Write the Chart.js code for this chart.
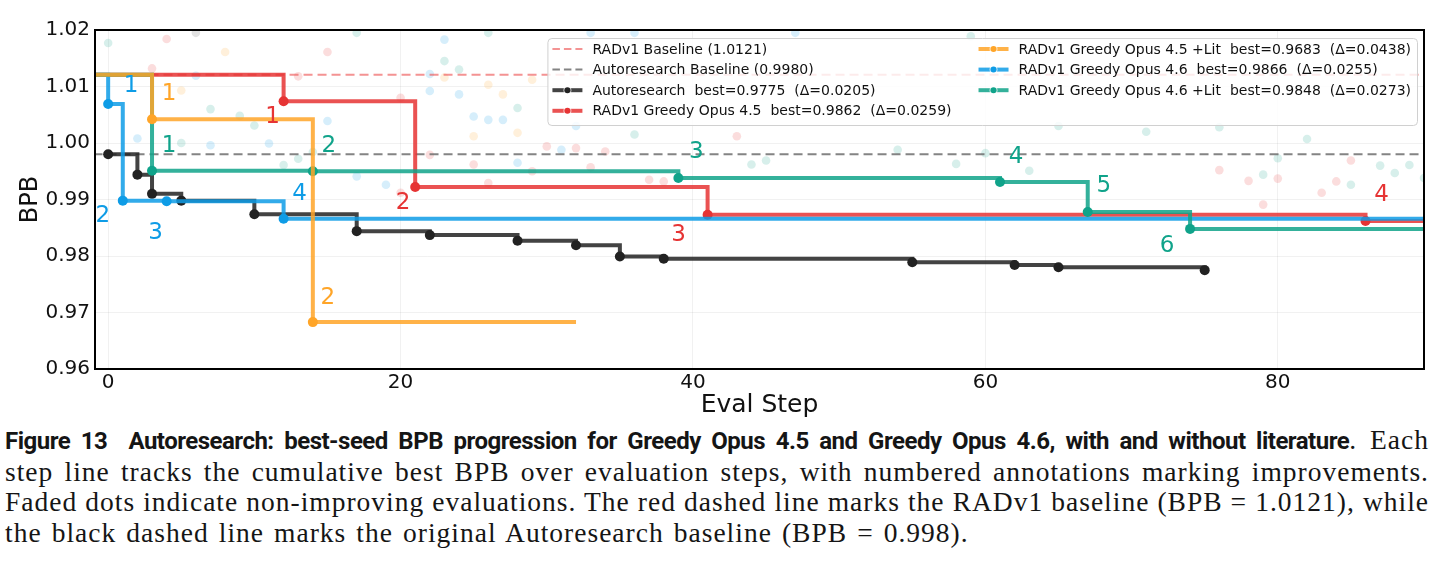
<!DOCTYPE html>
<html>
<head>
<meta charset="utf-8">
<script src="https://cdn.jsdelivr.net/npm/chart.js@4.4.1/dist/chart.umd.min.js"></script>
<style>
  html, body { margin: 0; padding: 0; background: #fff; }
  #wrap { position: relative; width: 1448px; height: 418px; }
  #caption { position: absolute; left: 5px; top: 425px; width: 1424px;
    font-family: 'Liberation Serif', 'DejaVu Serif', serif; font-size: 27.5px; letter-spacing: 1px;
    line-height: 30.7px; color: #151515; }
  #caption .ln { text-align: justify; text-align-last: justify; white-space: nowrap; }
  #caption .ln.last { text-align-last: left; word-spacing: 2.2px; }
  #caption b { font-family: Roboto, 'Noto Sans', sans-serif; font-weight: 700; font-size: 24px; letter-spacing: -0.5px; }
</style>
</head>
<body>
<div id="wrap"><canvas id="c"></canvas></div>
<div id="caption">
  <div class="ln"><b>Figure 13&nbsp; Autoresearch: best-seed BPB progression for Greedy Opus 4.5 and Greedy Opus 4.6, with and without literature</b>. Each</div>
  <div class="ln">step line tracks the cumulative best BPB over evaluation steps, with numbered annotations marking improvements.</div>
  <div class="ln">Faded dots indicate non-improving evaluations. The red dashed line marks the RADv1 baseline (BPB = 1.0121), while</div>
  <div class="ln last">the black dashed line marks the original Autoresearch baseline (BPB = 0.998).</div>
</div>
<script>
// ---------------- DATA ----------------
const xTicks = [0, 20, 40, 60, 80];
const yTicks = [0.96, 0.97, 0.98, 0.99, 1.00, 1.01, 1.02];

const RAD_BASELINE = 1.0121;
const AUTO_BASELINE = 0.9980;

// Autoresearch (cumulative best, improvement steps)
const autoSteps = [0, 2, 3, 5, 10, 17, 22, 28, 32, 35, 38, 55, 62, 65, 75];
const autoVals  = [0.9980, 0.9944, 0.9910, 0.9898, 0.9874, 0.9844, 0.9837, 0.9827, 0.9819, 0.9799, 0.9795, 0.9789, 0.9784, 0.9780, 0.9775];

// RADv1 Greedy Opus 4.5
const op45Steps = [12, 21, 41, 86];
const op45Vals  = [1.0074, 0.9922, 0.9873, 0.9862];
const op45LastStep = 90;

// RADv1 Greedy Opus 4.5 +Lit
const op45LitSteps = [3, 14];
const op45LitVals  = [1.0042, 0.9683];
const op45LitLastStep = 32;

// RADv1 Greedy Opus 4.6
const op46Steps = [0, 1, 4, 12];
const op46Vals  = [1.0069, 0.9898, 0.9897, 0.9866];
const op46LastStep = 90;

// RADv1 Greedy Opus 4.6 +Lit
const op46LitSteps = [3, 14, 39, 61, 67, 74];
const op46LitVals  = [0.9951, 0.9950, 0.9938, 0.9931, 0.9878, 0.9848];
const op46LitLastStep = 90;

// Faded (non-improving) evaluations
const fadeAutoX = [6];
const fadeAutoY = [1.0195];
const fadeOp45X = [4, 15, 3, 13, 20, 22, 20, 30, 32, 34, 25, 29, 26, 33, 37, 38, 43, 76, 78, 80, 83, 84, 85, 79];
const fadeOp45Y = [1.0184, 1.0161, 1.0132, 1.0118, 1.0080, 0.9979, 0.9912, 0.9994, 0.9991, 0.9985, 0.9962, 0.9950, 0.9929, 0.9957, 0.9935, 0.9932, 1.0012, 0.9952, 0.9933, 0.9937, 0.9912, 0.9932, 0.9969, 0.9891];
const fadeOp45LitX = [8, 5, 23, 26, 27, 29, 25, 28];
const fadeOp45LitY = [1.0161, 1.0093, 1.0116, 1.0103, 1.0086, 1.0112, 1.0012, 1.0018];
const fadeOp46X = [6, 22, 15, 2, 7, 11, 17, 19, 23, 22, 24, 25, 26, 27, 32, 33, 36, 31, 28, 47];
const fadeOp46Y = [1.0119, 1.0122, 1.0039, 1.0008, 0.9996, 0.9999, 0.9941, 0.9926, 1.0183, 1.0092, 1.0086, 1.0047, 1.0041, 1.0041, 1.0030, 1.0195, 1.0195, 0.9988, 0.9965, 1.0195];
const fadeOp46LitX = [0, 17, 7, 9, 10, 5, 12, 13, 14, 26, 23, 24, 28, 36, 44, 45, 54, 58, 60, 63, 65, 59, 71, 76, 82, 80, 87, 89, 88, 79, 85, 90];
const fadeOp46LitY = [1.0177, 1.0195, 1.0060, 1.0048, 1.0031, 1.0000, 0.9961, 0.9972, 0.9984, 1.0195, 1.0145, 1.0130, 1.0062, 1.0015, 0.9962, 0.9969, 0.9988, 0.9963, 0.9982, 0.9951, 1.0030, 1.0189, 1.0020, 1.0028, 1.0007, 0.9973, 0.9960, 0.9961, 0.9947, 0.9944, 0.9926, 0.9938];

// ---------------- STYLE ----------------
const X_MIN = -0.9, X_MAX = 90, SERIES_START = -1;
const COL = {
  auto:    [34, 34, 34],
  op45:    [230, 52, 52],
  op45Lit: [255, 165, 40],
  op46:    [14, 156, 230],
  op46Lit: [16, 163, 138]
};
const rgba = (c, a) => `rgba(${c[0]},${c[1]},${c[2]},${a})`;
// text offsets (px) of numbered annotations from their improvement dot
const labelOffsets = {
  op45:    [[-11, 16], [-12, 16], [-29, 20], [16, -26]],
  op45Lit: [[17, -25], [15, -24]],
  op46:    [[23, -18], [-20, 15], [-11, 32], [16, -25]],
  op46Lit: [[17, -25], [16, -25], [18, -26], [16, -25], [16, -26], [-23, 17]]
};

// ---------------- BUILD ----------------
function stepSeries(steps, vals, lastStep, startVal) {
  const pts = [];
  if (startVal !== undefined) pts.push({ x: SERIES_START, y: startVal, imp: false });
  steps.forEach((s, i) => pts.push({ x: s, y: vals[i], imp: true }));
  if (lastStep !== undefined && lastStep > steps[steps.length - 1])
    pts.push({ x: lastStep, y: vals[vals.length - 1], imp: false });
  return pts;
}
const zipPts = (xs, ys) => xs.map((x, i) => ({ x, y: ys[i] }));
const best = v => Math.min(...v);
const fmt = v => v.toFixed(4);

function stepDataset(key, label, pts, order) {
  return {
    key, label, data: pts, order, kind: 'step',
    stepped: 'before',
    borderColor: rgba(COL[key], 0.85),
    borderWidth: 4,
    pointRadius: c => (c.raw && c.raw.imp) ? 5 : 0,
    pointBackgroundColor: rgba(COL[key], 1),
    pointBorderWidth: 0,
    clip: 0,
    borderCapStyle: 'butt', borderJoinStyle: 'miter'
  };
}
function fadeDataset(key, xs, ys) {
  return {
    key: key + 'Fade', data: zipPts(xs, ys), order: 100, kind: 'fade',
    showLine: false, pointRadius: 4.3, pointBorderWidth: 0,
    pointBackgroundColor: rgba(COL[key], key === 'auto' ? 0.13 : 0.17), clip: 0
  };
}

const datasets = [
  fadeDataset('auto', fadeAutoX, fadeAutoY),
  fadeDataset('op45', fadeOp45X, fadeOp45Y),
  fadeDataset('op45Lit', fadeOp45LitX, fadeOp45LitY),
  fadeDataset('op46', fadeOp46X, fadeOp46Y),
  fadeDataset('op46Lit', fadeOp46LitX, fadeOp46LitY),
  { key: 'radBase', kind: 'base', label: `RADv1 Baseline (${fmt(RAD_BASELINE)})`,
    data: [{ x: SERIES_START, y: RAD_BASELINE }, { x: X_MAX + 1, y: RAD_BASELINE }],
    borderColor: 'rgba(238,80,80,0.62)', borderDash: [9, 5], borderWidth: 2, pointRadius: 0, order: 50, clip: 0 },
  { key: 'autoBase', kind: 'base', label: `Autoresearch Baseline (${fmt(AUTO_BASELINE)})`,
    data: [{ x: SERIES_START, y: AUTO_BASELINE }, { x: X_MAX + 1, y: AUTO_BASELINE }],
    borderColor: 'rgba(110,110,110,0.85)', borderDash: [9, 5], borderWidth: 2, pointRadius: 0, order: 50, clip: 0 },
  stepDataset('auto', `Autoresearch  best=${fmt(best(autoVals))}  (Δ=${fmt(AUTO_BASELINE - best(autoVals))})`,
    stepSeries(autoSteps, autoVals), 6),
  stepDataset('op45', `RADv1 Greedy Opus 4.5  best=${fmt(best(op45Vals))}  (Δ=${fmt(RAD_BASELINE - best(op45Vals))})`,
    stepSeries(op45Steps, op45Vals, op45LastStep, RAD_BASELINE), 5),
  stepDataset('op45Lit', `RADv1 Greedy Opus 4.5 +Lit  best=${fmt(best(op45LitVals))}  (Δ=${fmt(RAD_BASELINE - best(op45LitVals))})`,
    stepSeries(op45LitSteps, op45LitVals, op45LitLastStep, RAD_BASELINE), 2),
  stepDataset('op46', `RADv1 Greedy Opus 4.6  best=${fmt(best(op46Vals))}  (Δ=${fmt(RAD_BASELINE - best(op46Vals))})`,
    stepSeries(op46Steps, op46Vals, op46LastStep, RAD_BASELINE), 4),
  stepDataset('op46Lit', `RADv1 Greedy Opus 4.6 +Lit  best=${fmt(best(op46LitVals))}  (Δ=${fmt(RAD_BASELINE - best(op46LitVals))})`,
    stepSeries(op46LitSteps, op46LitVals, op46LitLastStep, RAD_BASELINE), 3)
];
const legendKeys = ['radBase', 'autoBase', 'auto', 'op45', 'op45Lit', 'op46', 'op46Lit'];
const annotKeys = ['op45', 'op45Lit', 'op46', 'op46Lit'];

// ---------------- PLUGINS ----------------
const overlayPlugin = {
  id: 'overlay',
  afterDatasetsDraw(chart) {
    const { ctx, chartArea: ca, scales } = chart;
    ctx.save();
    // frame (spines)
    ctx.strokeStyle = '#000';
    ctx.lineWidth = 2;
    ctx.strokeRect(ca.left, ca.top, ca.right - ca.left, ca.bottom - ca.top);
    // numbered annotations
    ctx.font = '23px "DejaVu Sans"';
    ctx.textAlign = 'center';
    ctx.textBaseline = 'middle';
    annotKeys.forEach(k => {
      const ds = chart.data.datasets.find(d => d.key === k);
      const imps = ds.data.filter(p => p.imp);
      imps.forEach((p, i) => {
        const off = labelOffsets[k][i] || [16, -25];
        const px = scales.x.getPixelForValue(p.x) + off[0];
        const py = scales.y.getPixelForValue(p.y) + off[1];
        ctx.fillStyle = rgba(COL[k], 1);
        ctx.fillText(String(i + 1), px, py);
      });
    });
    ctx.restore();
  },
  afterDraw(chart) {
    const { ctx, chartArea: ca } = chart;
    const items = legendKeys.map(k => chart.data.datasets.find(d => d.key === k));
    ctx.save();
    ctx.font = '14px "DejaVu Sans"';
    const col1 = items.slice(0, 4), col2 = items.slice(4);
    const w1 = Math.max(...col1.map(d => ctx.measureText(d.label).width));
    const w2 = Math.max(...col2.map(d => ctx.measureText(d.label).width));
    const handle = 30, hgap = 10, pad = 5, colgap = 27, rowH = 20.6;
    const W = pad + handle + hgap + w1 + colgap + handle + hgap + w2 + pad + 1;
    const H = 87;
    const x0 = ca.right - 7 - W, y0 = ca.top + 8;
    ctx.beginPath();
    ctx.roundRect(x0 + 0.5, y0 + 0.5, W, H, 4);
    ctx.fillStyle = 'rgba(255,255,255,0.82)';
    ctx.fill();
    ctx.strokeStyle = '#d0d0d0';
    ctx.lineWidth = 1;
    ctx.stroke();
    const drawItem = (d, hx, cy) => {
      const tx = hx + handle + hgap;
      if (d.kind === 'base') {
        ctx.save();
        ctx.setLineDash([7.5, 4]);
        ctx.strokeStyle = d.borderColor;
        ctx.lineWidth = 2;
        ctx.beginPath(); ctx.moveTo(hx, cy); ctx.lineTo(hx + handle, cy); ctx.stroke();
        ctx.restore();
      } else {
        const c = COL[d.key];
        ctx.strokeStyle = rgba(c, 0.85);
        ctx.lineWidth = 4;
        ctx.beginPath(); ctx.moveTo(hx, cy); ctx.lineTo(hx + handle, cy); ctx.stroke();
        ctx.beginPath(); ctx.arc(hx + handle / 2, cy, 4, 0, Math.PI * 2);
        ctx.fillStyle = 'rgba(255,255,255,0.7)'; ctx.fill();
        ctx.beginPath(); ctx.arc(hx + handle / 2, cy, 3, 0, Math.PI * 2);
        ctx.fillStyle = rgba(c, 1); ctx.fill();
      }
      ctx.fillStyle = '#111';
      ctx.textAlign = 'left';
      ctx.textBaseline = 'middle';
      ctx.fillText(d.label, tx, cy + 1);
    };
    col1.forEach((d, i) => drawItem(d, x0 + pad, y0 + 11 + i * rowH));
    const hx2 = x0 + pad + handle + hgap + w1 + colgap;
    col2.forEach((d, i) => drawItem(d, hx2, y0 + 11 + i * rowH));
    ctx.restore();
  }
};

// ---------------- CHART ----------------
new Chart(document.getElementById('c'), {
  type: 'line',
  data: { datasets },
  options: {
    responsive: true,
    maintainAspectRatio: false,
    devicePixelRatio: 1,
    animation: false,
    events: [],
    layout: { padding: { top: 30, right: 24, left: 0, bottom: 0 } },
    plugins: { legend: { display: false }, tooltip: { enabled: false } },
    scales: {
      x: {
        type: 'linear', min: X_MIN, max: X_MAX,
        afterBuildTicks: s => { s.ticks = xTicks.map(v => ({ value: v })); },
        afterFit: s => { s.height = 49; },
        grid: { color: 'rgba(0,0,0,0.055)', lineWidth: 1, drawTicks: false },
        border: { display: false },
        ticks: { font: { family: 'DejaVu Sans', size: 20 }, color: '#111', padding: 2, maxRotation: 0, autoSkip: false,
          callback: v => String(v) },
        title: { display: true, text: 'Eval Step', font: { family: 'DejaVu Sans', size: 25, lineHeight: 1.0 }, color: '#111',
          padding: { top: 0, bottom: 0 } }
      },
      y: {
        type: 'linear', min: 0.96, max: 1.02,
        afterBuildTicks: s => { s.ticks = yTicks.map(v => ({ value: v })); },
        afterFit: s => { s.width = 95; },
        grid: { color: 'rgba(0,0,0,0.055)', lineWidth: 1, drawTicks: false },
        border: { display: false },
        ticks: { font: { family: 'DejaVu Sans', size: 20 }, color: '#111', padding: 5, autoSkip: false,
          callback: v => Number(v).toFixed(2) },
        title: { display: true, text: 'BPB', font: { family: 'DejaVu Sans', size: 24 }, color: '#111',
          padding: { top: 16, bottom: 0 } }
      }
    }
  },
  plugins: [overlayPlugin]
});
</script>
</body>
</html>
